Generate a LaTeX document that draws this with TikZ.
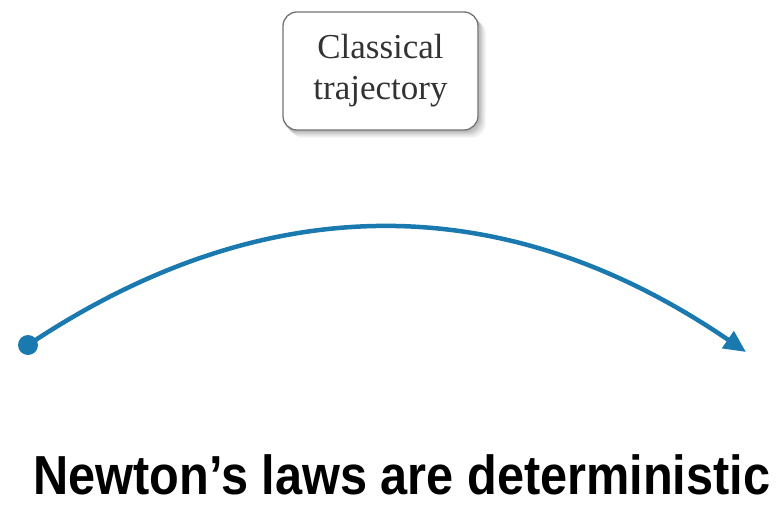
\documentclass[tikz,border=0pt]{standalone}
\usepackage{fontspec}
\setmainfont{Liberation Serif}
\setsansfont{Liberation Sans}
\usetikzlibrary{arrows.meta}
\definecolor{trajblue}{HTML}{1A7AB0}
\begin{document}
\begin{tikzpicture}[x=1pt,y=-1pt,
  labelbox/.style={draw=black!55, line width=1.3pt, rounded corners=14pt, fill=white,
    minimum width=195pt, minimum height=118pt, align=center, inner sep=0pt,
    font=\fontsize{35}{41}\selectfont, text=black!80},
  traj/.style={draw=trajblue, line width=4.5pt, -{Triangle[length=22pt,width=20pt]}},
  startdot/.style={circle, fill=trajblue, minimum size=20pt, inner sep=0pt},
  caption/.style={font=\sffamily\bfseries\fontsize{55}{60}\selectfont, inner sep=0pt, anchor=base}]
\useasboundingbox (0,0) rectangle (778,505);
% soft shadow
\foreach \i/\o in {1/0.05,2/0.05,3/0.05,4/0.04,5/0.04,6/0.03,7/0.03}{
  \fill[black, opacity=\o, rounded corners=14pt] (283+\i-1,12+\i+1) rectangle (478+\i+1,130+\i+1);
}
\node[labelbox] (box) at (380.5,71) {Classical\\trajectory};
\node[startdot] (start) at (28,345) {};
\coordinate (tip) at (746,352);
\draw[traj] (start.center) .. controls (266,186) and (506,188) .. (tip);
\node[caption] (cap) at (402,494) {\scalebox{0.885}[1]{Newton’s laws are deterministic}};
\end{tikzpicture}
\end{document}
